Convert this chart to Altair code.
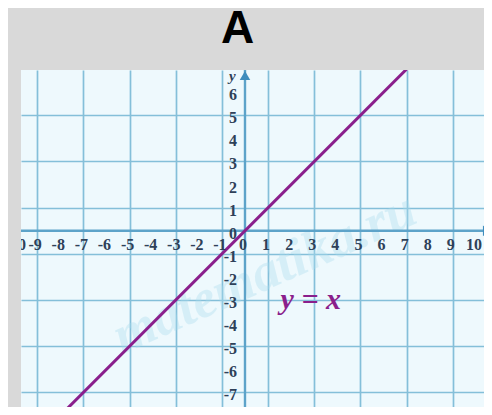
import altair as alt
import pandas as pd

# --- data ---
x_ticks = [-9, -8, -7, -6, -5, -4, -3, -2, -1, 0, 1, 2, 3, 4, 5, 6, 7, 8, 9, 10]
x_edge_tick = [-10]
y_ticks = [6, 5, 4, 3, 2, 1, 0, -1, -2, -3, -4, -5, -6, -7, -8]
line_x = [-10, 8]
line_y = [-10, 8]
eq_label = "y = x"
eq_pos = (2.85, -3.0)
watermark = "matematika.ru"
wm_pos = (0.85, -1.85)

X_DOM = [-9.7, 10.35]
Y_DOM = [-7.63, 6.96]

xs = alt.Scale(domain=X_DOM, nice=False, zero=False)
ys = alt.Scale(domain=Y_DOM, nice=False, zero=False)

grid_color = "#84bfd9"
axis_color = "#5da3c9"
label_color = "#2e4159"
purple = "#8a1f8c"

base_df = pd.DataFrame({"x": [0], "y": [0]})

# grid via axes
grid = alt.Chart(base_df).mark_point(opacity=0).encode(
    x=alt.X("x:Q", scale=xs,
            axis=alt.Axis(values=x_edge_tick + x_ticks, grid=True, labels=False, ticks=False,
                          domain=False, title=None, gridColor=grid_color,
                          gridWidth=1.7, gridOpacity=1)),
    y=alt.Y("y:Q", scale=ys,
            axis=alt.Axis(values=y_ticks + [7], grid=True, labels=False, ticks=False,
                          domain=False, title=None, gridColor=grid_color,
                          gridWidth=1.7, gridOpacity=1)),
)

# watermark
wm_df = pd.DataFrame({"x": [wm_pos[0]], "y": [wm_pos[1]], "t": [watermark]})
wm = alt.Chart(wm_df).mark_text(
    font="Liberation Serif", fontStyle="italic", fontWeight="bold", fontSize=54,
    color="#a9dcee", opacity=0.35, angle=336, clip=True
).encode(x=alt.X("x:Q", scale=xs), y=alt.Y("y:Q", scale=ys), text="t:N")

# main axes lines
vrule = alt.Chart(base_df).mark_rule(color=axis_color, strokeWidth=2.4).encode(
    x=alt.X("x:Q", scale=xs))
hrule = alt.Chart(base_df).mark_rule(color=axis_color, strokeWidth=2.4).encode(
    y=alt.Y("y:Q", scale=ys))

# arrows
arr_up = alt.Chart(pd.DataFrame({"x": [0], "y": [6.72]})).mark_point(
    shape="triangle-up", filled=True, size=110, color="#3f8dbd", opacity=1, clip=True
).encode(x=alt.X("x:Q", scale=xs), y=alt.Y("y:Q", scale=ys))
arr_right = alt.Chart(pd.DataFrame({"x": [10.5], "y": [0]})).mark_point(
    shape="triangle-right", filled=True, size=110, color="#3f8dbd", opacity=1, clip=True
).encode(x=alt.X("x:Q", scale=xs), y=alt.Y("y:Q", scale=ys))

# y = x line
line_df = pd.DataFrame({"x": line_x, "y": line_y})
line = alt.Chart(line_df).mark_line(color=purple, strokeWidth=3, clip=True).encode(
    x=alt.X("x:Q", scale=xs), y=alt.Y("y:Q", scale=ys))

# tick labels
xl_df = pd.DataFrame({"x": x_ticks, "y": [0] * len(x_ticks), "t": [str(v) for v in x_ticks]})
xlab = alt.Chart(xl_df).mark_text(
    font="Liberation Serif", fontWeight="bold", fontSize=16, color=label_color,
    baseline="middle", align="center", dx=-2, dy=14, clip=True
).encode(x=alt.X("x:Q", scale=xs), y=alt.Y("y:Q", scale=ys), text="t:N")

xe_df = pd.DataFrame({"x": x_edge_tick, "y": [0], "t": [str(v) for v in x_edge_tick]})
xlab_edge = alt.Chart(xe_df).mark_text(
    font="Liberation Serif", fontWeight="bold", fontSize=16, color=label_color,
    baseline="middle", align="right", dx=12, dy=14, clip=True
).encode(x=alt.X("x:Q", scale=xs), y=alt.Y("y:Q", scale=ys), text="t:N")

yl_df = pd.DataFrame({"x": [0] * len(y_ticks), "y": y_ticks, "t": [str(v) for v in y_ticks]})
ylab = alt.Chart(yl_df).mark_text(
    font="Liberation Serif", fontWeight="bold", fontSize=16, color=label_color,
    baseline="middle", align="right", dx=-8, dy=3, clip=True
).encode(x=alt.X("x:Q", scale=xs), y=alt.Y("y:Q", scale=ys), text="t:N")

# axis name y
yname = alt.Chart(pd.DataFrame({"x": [-0.55], "y": [6.72], "t": ["y"]})).mark_text(
    font="Liberation Serif", fontStyle="italic", fontWeight="bold", fontSize=15,
    color=label_color, clip=True
).encode(x=alt.X("x:Q", scale=xs), y=alt.Y("y:Q", scale=ys), text="t:N")

# equation label
eq_df = pd.DataFrame({"x": [eq_pos[0]], "y": [eq_pos[1]], "t": [eq_label]})
eq = alt.Chart(eq_df).mark_text(
    font="Liberation Serif", fontStyle="italic", fontWeight="bold", fontSize=30,
    color=purple, baseline="middle", align="center"
).encode(x=alt.X("x:Q", scale=xs), y=alt.Y("y:Q", scale=ys), text="t:N")

# title "A"
title = alt.Chart(base_df).mark_text(
    text="A", font="Liberation Sans", fontWeight="bold", fontSize=46,
    color="#000000", baseline="alphabetic", align="center"
).encode(x=alt.value(216.5), y=alt.value(-27))

chart = alt.layer(
    grid, wm, vrule, hrule, line, xlab, xlab_edge, ylab, arr_up, arr_right, yname, eq, title
).properties(
    width=463, height=337,
    autosize=alt.AutoSizeParams(type="none"),
    padding={"left": 13, "top": 62, "right": 0, "bottom": 0},
    background="#d9d9d9",
).configure_view(stroke=None, fill="#eef9fd")

chart.save("out.html", embed_options={"renderer": "svg", "actions": False})
